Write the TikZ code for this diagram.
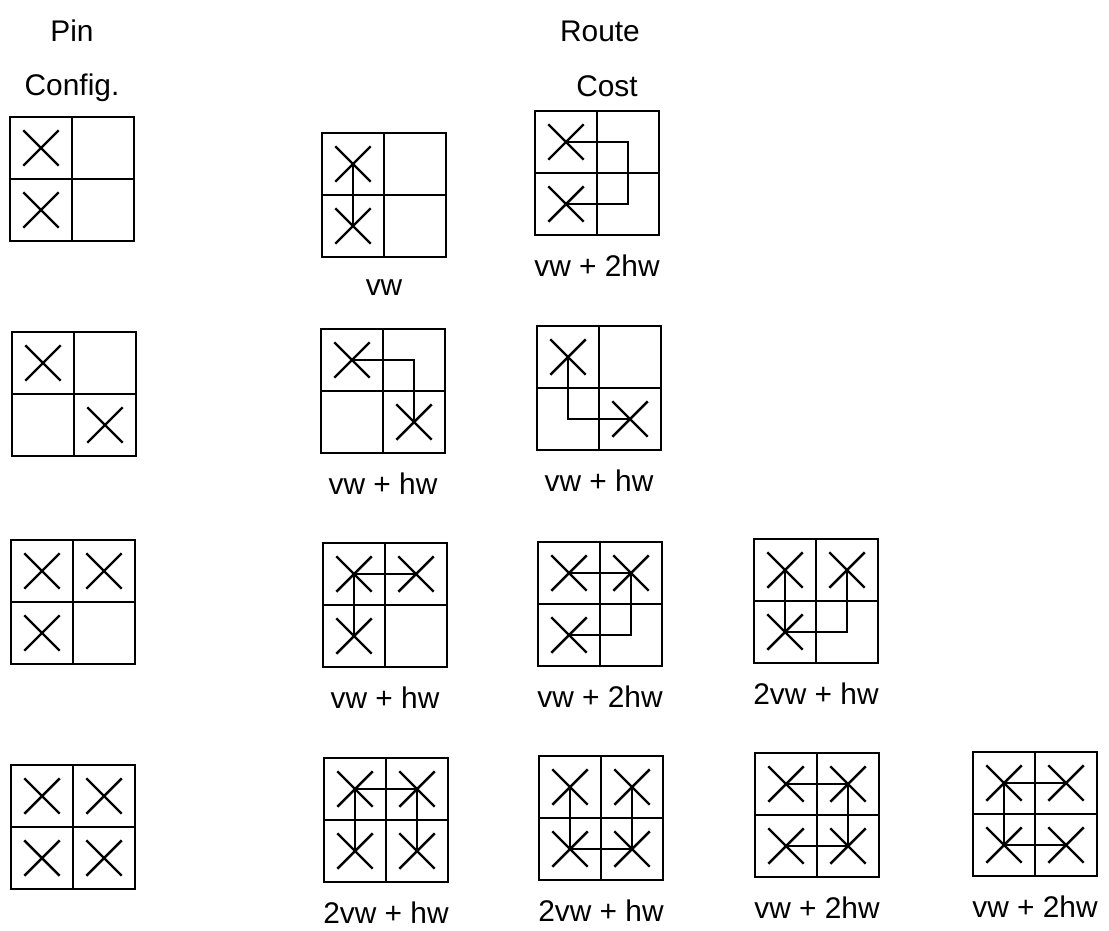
\documentclass[tikz,border=0pt]{standalone}
\usepackage{fontspec}
\setmainfont{Liberation Sans}
\usepackage{tikz}
\usetikzlibrary{shapes.misc}

\tikzset{
  cellline/.style={line width=1.4pt},
  pin/.style={cross out,draw,line width=1.4pt,minimum size=0.66cm,inner sep=0pt},
  wire/.style={line width=1.4pt},
  cost/.style={font=\fontsize{17}{20}\selectfont,inner sep=1pt},
}

\begin{document}
\begin{tikzpicture}[x=0.02cm,y=-0.02cm]
    \useasboundingbox (0,0) rectangle (1109,930);
    % headings
    \node[cost] (pinhead) at (72,31) {Pin};
    \node[cost] (confighead) at (72,88) {Config.};
    \node[cost] (routehead) at (600,31) {Route};
    \node[cost] (costhead) at (607,86) {Cost};
    % the 2x2 grids, with a coordinate in each cell
    \foreach \g/\gx/\gy in {
        p1/10/117, p2/12/332, p3/11/540, p4/11/765,
        r1a/322/133, r1b/535/111,
        r2a/321/329, r2b/537/326,
        r3a/323/543, r3b/538/542, r3c/754/539,
        r4a/324/758, r4b/539/756, r4c/755/753, r4d/973/752}{
        \draw[cellline] (\gx,\gy) rectangle ++(124,124);
        \draw[cellline] (\gx+62,\gy) -- ++(0,124);
        \draw[cellline] (\gx,\gy+62) -- ++(124,0);
        \foreach \c in {0,1}{
            \foreach \r in {0,1}{
                \coordinate (\g-\c\r) at (\gx+31+62*\c,\gy+31+62*\r);
            }
        }
        \coordinate (\g-s) at (\gx+62,\gy+155);
    }
    % pins
    \foreach \p in {p1-00,p1-01, p2-00,p2-11, p3-00,p3-10,p3-01,
        p4-00,p4-10,p4-01,p4-11,
        r1a-00,r1a-01, r1b-00,r1b-01,
        r2a-00,r2a-11, r2b-00,r2b-11,
        r3a-00,r3a-10,r3a-01, r3b-00,r3b-10,r3b-01, r3c-00,r3c-10,r3c-01,
        r4a-00,r4a-10,r4a-01,r4a-11, r4b-00,r4b-10,r4b-01,r4b-11,
        r4c-00,r4c-10,r4c-01,r4c-11, r4d-00,r4d-10,r4d-01,r4d-11}{
        \node[pin] (x-\p) at (\p) {};
    }
    % routes
    \draw[wire] (r1a-00) -- (r1a-01);
    \draw[wire] (r1b-00) -- (r1b-10) -- (r1b-11) -- (r1b-01);
    \draw[wire] (r2a-00) -- (r2a-10) -- (r2a-11);
    \draw[wire] (r2b-00) -- (r2b-01) -- (r2b-11);
    \draw[wire] (r3a-10) -- (r3a-00) -- (r3a-01);
    \draw[wire] (r3b-00) -- (r3b-10) -- (r3b-11) -- (r3b-01);
    \draw[wire] (r3c-00) -- (r3c-01) -- (r3c-11) -- (r3c-10);
    \draw[wire] (r4a-01) -- (r4a-00) -- (r4a-10) -- (r4a-11);
    \draw[wire] (r4b-00) -- (r4b-01) -- (r4b-11) -- (r4b-10);
    \draw[wire] (r4c-00) -- (r4c-10) -- (r4c-11) -- (r4c-01);
    \draw[wire] (r4d-10) -- (r4d-00) -- (r4d-01) -- (r4d-11);
    % costs
    \foreach \g/\lab in {r1a/vw, r1b/vw + 2hw, r2a/vw + hw, r2b/vw + hw,
        r3a/vw + hw, r3b/vw + 2hw, r3c/2vw + hw,
        r4a/2vw + hw, r4b/2vw + hw, r4c/vw + 2hw, r4d/vw + 2hw}{
        \node[cost] (lab-\g) at (\g-s) {\lab};
    }
\end{tikzpicture}
\end{document}
